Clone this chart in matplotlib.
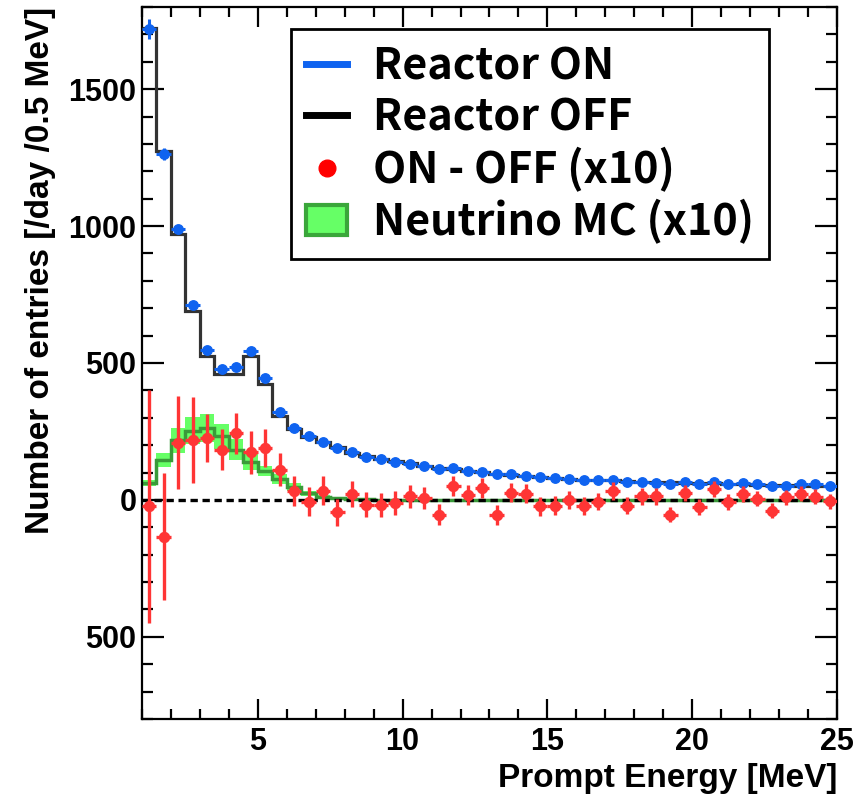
import numpy as np
import matplotlib
matplotlib.use('Agg')
import matplotlib.pyplot as plt
from matplotlib.lines import Line2D
from matplotlib.patches import Patch
from matplotlib.ticker import MultipleLocator, FixedLocator, FixedFormatter

# binning: 0.5 MeV bins from 1 to 25 MeV
bin_lo = 1.0
bin_width = 0.5
n_bins = 48

# Reactor ON (blue points) [/day /0.5 MeV]
on_vals = [1719, 1263, 990, 712, 548, 478, 485, 543, 444, 320, 263, 232, 213, 188,
           174, 156, 150, 140, 131, 125, 113, 116, 107, 103, 95, 95, 89, 83, 80, 77,
           73, 73, 74, 65, 67, 62, 58, 67, 57, 65, 58, 62, 57, 50, 52, 58, 58, 50]
on_errs = [36, 21, 15, 12, 10, 9, 9, 9, 8, 7, 6, 6, 6, 5,
           5, 5, 5, 5, 5, 4, 4, 4, 4, 4, 4, 4, 4, 4, 4, 4,
           3, 3, 3, 3, 3, 3, 3, 3, 3, 3, 3, 3, 3, 3, 3, 3, 3, 3]

# Reactor OFF (black histogram)
off_vals = [1723, 1274, 971, 691, 524, 461, 461, 524, 425, 308, 259, 229, 210, 192,
            172, 160, 150, 141, 133, 125, 118, 112, 106, 101, 96, 92, 88, 84, 81, 78,
            74, 72, 71, 69, 67, 65, 64, 62, 61, 60, 58, 57, 56, 55, 54, 52, 51, 50]

# ON - OFF (x10), red points
diff_vals = [-24, -134, 208, 219, 225, 184, 243, 174, 189, 111, 32, -6, 34, -45,
             22, -18, -18, -11, 13, 7, -54, 50, 19, 44, -55, 26, 22, -23, -21, 1,
             -23, -6, 32, -21, 13, 13, -54, 26, -27, 40, -8, 22, 4, -39, 10, 22, 12, -5]
diff_errs = [424, 233, 170, 157, 88, 76, 76, 79, 70, 61, 55, 54, 53, 49,
             47, 46, 45, 43, 42, 40, 38, 37, 37, 36, 36, 35, 35, 34, 34, 33,
             32, 32, 32, 31, 31, 30, 28, 30, 29, 29, 29, 28, 28, 28, 27, 27, 27, 27]

# Neutrino MC (x10), green band
mc_vals = [61, 146, 217, 253, 262, 232, 184, 140, 107, 77, 46, 24, 12, 6,
           3, 2, 1, 1, 1, 1, 0, 0, 0, 0, 0, 0, 0, 0, 0, 0,
           0, 0, 0, 0, 0, 0, 0, 0, 0, 0, 0, 0, 0, 0, 0, 0, 0, 0]
mc_errs = [12, 27, 44, 49, 50, 46, 40, 30, 18, 18, 15, 10, 6, 4,
           2, 2, 1, 1, 1, 1, 1, 1, 1, 1, 1, 1, 1, 1, 1, 1,
           1, 1, 1, 1, 1, 1, 1, 1, 1, 1, 1, 1, 1, 1, 1, 1, 1, 1]

ytick_vals = [-500, 0, 500, 1000, 1500]
ytick_labels = ['500', '0', '500', '1000', '1500']

legend_labels = ['Reactor ON', 'Reactor OFF', 'ON - OFF (x10)', 'Neutrino MC (x10)']

plt.rcParams['font.family'] = ['Liberation Sans', 'DejaVu Sans']
plt.rcParams['font.weight'] = 'bold'

edges = bin_lo + bin_width * np.arange(n_bins + 1)
centers = edges[:-1] + bin_width / 2

on = np.array(on_vals, dtype=float)
off = np.array(off_vals, dtype=float)
diff = np.array(diff_vals, dtype=float)
mc = np.array(mc_vals, dtype=float)
mc_e = np.array(mc_errs, dtype=float)

fig = plt.figure(figsize=(8.58, 7.94), dpi=100)
ax = fig.add_axes([0.1655, 0.0945, 0.81, 0.8967])

blue = '#0f63f0'
red = '#ff3535'

# MC band + line
ax.stairs(mc + mc_e, edges, baseline=mc - mc_e, fill=True, color='#66ff66', lw=0, zorder=1)
ax.stairs(mc, edges, baseline=None, color='#3a9a3a', lw=2.5, zorder=2)

# reactor OFF histogram
ax.stairs(off, edges, baseline=None, color='#333333', lw=2.3, zorder=3)

# zero line
ax.axhline(0, color='black', ls=(0, (2.2, 1.4)), lw=2.4, zorder=4)

# reactor ON points
ax.errorbar(centers, on, xerr=bin_width / 2, yerr=on_errs, fmt='o', color=blue,
            ms=6.8, elinewidth=2.2, capsize=0, zorder=5)

# ON - OFF points
ax.errorbar(centers, diff, xerr=bin_width / 2, yerr=diff_errs, fmt='o', color=red,
            ms=7.2, elinewidth=2.4, capsize=0, zorder=6)

ax.set_xlim(1, 25)
ax.set_ylim(-800, 1800)

ax.xaxis.set_major_locator(MultipleLocator(5))
ax.xaxis.set_minor_locator(MultipleLocator(1))
ax.yaxis.set_major_locator(FixedLocator(ytick_vals))
ax.yaxis.set_major_formatter(FixedFormatter(ytick_labels))
ax.yaxis.set_minor_locator(MultipleLocator(100))

ax.tick_params(which='both', direction='in', top=True, right=True, width=1.6)
ax.tick_params(axis='y', which='major', length=16, labelsize=22, pad=4)
ax.tick_params(axis='y', which='minor', length=8)
ax.tick_params(axis='x', which='major', length=14.5, labelsize=22, pad=6)
ax.tick_params(axis='x', which='minor', length=7)
for lab in ax.get_xticklabels() + ax.get_yticklabels():
    lab.set_fontweight('bold')
for sp in ax.spines.values():
    sp.set_linewidth(1.6)

ax.set_xlabel('Prompt Energy [MeV]', loc='right', fontsize=24, fontweight='bold', labelpad=4)
ax.set_ylabel('Number of entries [/day /0.5 MeV]', loc='top', fontsize=24, fontweight='bold', labelpad=9)

handles = [Line2D([], [], color=blue, lw=5),
           Line2D([], [], color='black', lw=5),
           Line2D([], [], color='red', marker='o', ls='none', ms=12),
           Patch(facecolor='#66ff66', edgecolor='#3aa63a', lw=3)]
leg = ax.legend(handles, legend_labels, loc='upper right', bbox_to_anchor=(0.902, 0.969),
                borderaxespad=0, fancybox=False, frameon=True, edgecolor='black', framealpha=1,
                handlelength=0.95, handletextpad=0.6, labelspacing=0.17, borderpad=0.35,
                prop={'family': ['Noto Sans CJK JP', 'DejaVu Sans'], 'weight': 'bold', 'size': 31})
leg.get_frame().set_linewidth(2)
leg.set_zorder(10)

fig.savefig('out.png', dpi=100)
